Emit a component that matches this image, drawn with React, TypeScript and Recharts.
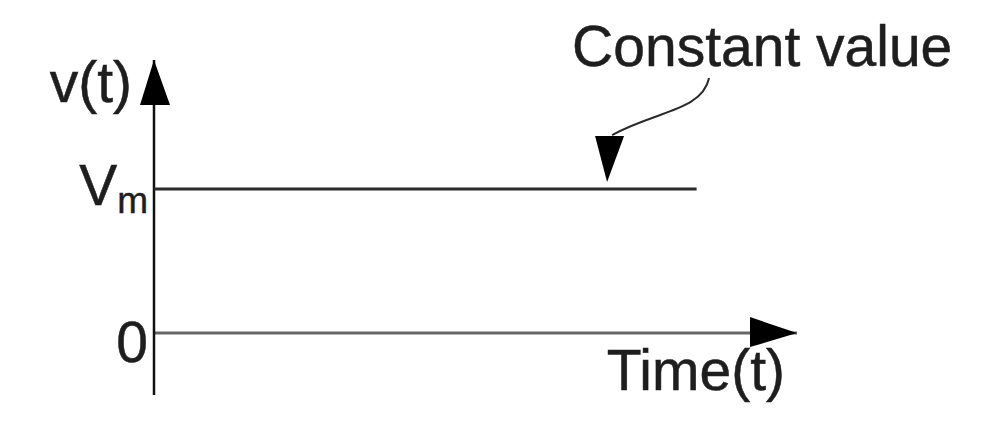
import { LineChart, Line, XAxis, YAxis, ReferenceLine, ReferenceDot } from 'recharts';

// constant signal v(t) = Vm
const times = [0, 10];
const values = [1, 1];
const yTicks = [0, 1];
const tickLabels = ['0', 'Vm'];

const X_MAX = 11.85;
const Y_MIN = -0.43;
const Y_MAX = 1.896;
const NOTE_T = 8.35;

const data = times.map((t, i) => ({ t, v: values[i] }));

const FONT = '"Liberation Sans", Arial, sans-serif';
const INK = '#1e1e1e';
const textStyle = { fontFamily: FONT, fill: INK, stroke: INK, strokeWidth: 0.5 };

function YTick({ x, y, payload }: any) {
  const label = tickLabels[yTicks.indexOf(payload.value)];
  if (label === 'Vm') {
    return (
      <text x={x} y={y + 16} textAnchor="end" style={textStyle}>
        <tspan fontSize={57}>V</tspan>
        <tspan fontSize={37} dy={8}>m</tspan>
      </text>
    );
  }
  return (
    <text x={x} y={y + 29} textAnchor="end" fontSize={57} style={textStyle}>
      {label}
    </text>
  );
}

// arrow head at the top of the y axis, with the v(t) label
function YArrow({ cx, cy }: any) {
  return (
    <g>
      <polygon points={`${cx},${cy} ${cx - 14},${cy + 45} ${cx + 16},${cy + 45}`} fill="#000" />
      <text x={cx - 22} y={cy + 42} textAnchor="end" fontSize={57} style={textStyle}>
        v(t)
      </text>
    </g>
  );
}

// arrow head at the end of the time axis, with the Time(t) label
function XArrow({ cx, cy }: any) {
  return (
    <g>
      <polygon points={`${cx},${cy} ${cx - 47},${cy - 16} ${cx - 47},${cy + 14}`} fill="#000" />
      <text x={cx - 12} y={cy + 57} textAnchor="end" fontSize={57} style={textStyle}>
        Time(t)
      </text>
    </g>
  );
}

// curved pointer with the "Constant value" note
function Note({ cx, cy }: any) {
  return (
    <g>
      <path
        d={`M ${cx + 102} ${cy - 111} C ${cx + 95} ${cy - 78}, ${cx + 48} ${cy - 78}, ${cx + 5} ${cy - 54}`}
        fill="none"
        stroke="#2a2a2a"
        strokeWidth={2}
      />
      <polygon points={`${cx},${cy - 7} ${cx - 12},${cy - 53} ${cx + 17},${cy - 53}`} fill="#000" />
      <text x={cx - 35} y={cy - 123} fontSize={57} style={textStyle}>
        Constant value
      </text>
    </g>
  );
}

export default function App() {
  return (
    <div style={{ position: 'absolute', left: 0, top: 0, background: '#fff' }}>
      <LineChart width={992} height={438} data={data} margin={{ top: 60, right: 195, bottom: 43, left: 0 }}>
        <XAxis dataKey="t" type="number" domain={[0, X_MAX]} allowDataOverflow hide />
        <YAxis
          type="number"
          domain={[Y_MIN, Y_MAX]}
          allowDataOverflow
          ticks={yTicks}
          width={154}
          axisLine={false}
          tickLine={false}
          tickSize={0}
          tickMargin={6}
          tick={<YTick />}
        />
        <ReferenceLine y={0} stroke="#666" strokeWidth={3} />
        <ReferenceLine x={0} stroke="#111" strokeWidth={2.5} />
        <Line dataKey="v" stroke="#2b2b2b" strokeWidth={3} dot={false} isAnimationActive={false} />
        <ReferenceDot x={0} y={Y_MAX} r={0} shape={<YArrow />} />
        <ReferenceDot x={X_MAX} y={0} r={0} shape={<XArrow />} />
        <ReferenceDot x={NOTE_T} y={1} r={0} shape={<Note />} />
      </LineChart>
    </div>
  );
}
